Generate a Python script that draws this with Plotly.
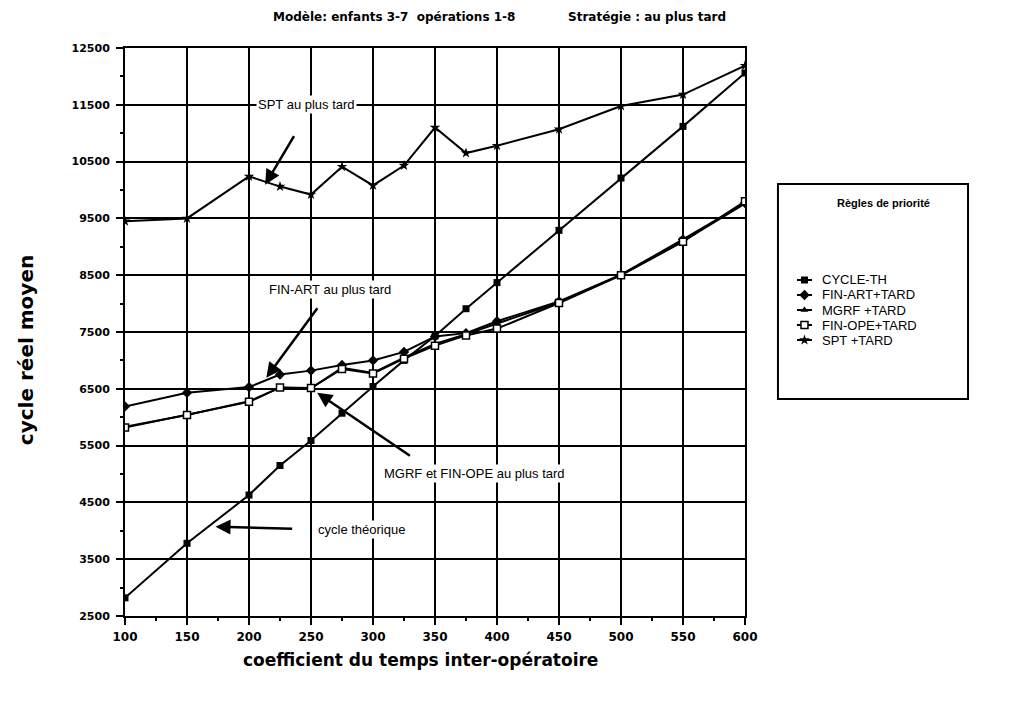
import plotly.graph_objects as go

# Inter-operation time coefficient (x) and mean real cycle (y) for each priority rule
coef = [100, 150, 200, 225, 250, 275, 300, 325, 350, 375, 400, 450, 500, 550, 600]

cycle_th = [2820, 3780, 4630, 5150, 5590, 6070, 6540, 7000, 7430, 7910, 8370, 9290, 10210, 11120, 12060]
fin_art = [6190, 6430, 6530, 6750, 6820, 6920, 7000, 7150, 7420, 7480, 7690, 8040, 8510, 9130, 9770]
mgrf = [5830, 6040, 6280, 6520, 6510, 6870, 6780, 7050, 7290, 7460, 7650, 8020, 8500, 9100, 9760]
fin_ope = [5820, 6040, 6270, 6525, 6514, 6850, 6770, 7030, 7260, 7440, 7560, 8010, 8500, 9090, 9800]
spt = [9450, 9500, 10240, 10060, 9920, 10410, 10080, 10430, 11100, 10650, 10780, 11070, 11480, 11680, 12190]

x_ticks = [100, 150, 200, 250, 300, 350, 400, 450, 500, 550, 600]
y_ticks = [2500, 3500, 4500, 5500, 6500, 7500, 8500, 9500, 10500, 11500, 12500]
y_tick_text = [str(v) for v in y_ticks]

series = [
    ("CYCLE-TH", cycle_th, dict(symbol="square", size=7, color="black")),
    ("FIN-ART+TARD", fin_art, dict(symbol="diamond", size=8, color="black")),
    ("MGRF +TARD", mgrf, dict(symbol="triangle-up", size=7, color="black")),
    ("FIN-OPE+TARD", fin_ope, dict(symbol="square", size=7, color="white",
                                   line=dict(color="black", width=1.5))),
    ("SPT +TARD", spt, dict(symbol="star", size=8, color="black")),
]

# Horizontal layout: main plot on the left, legend panel on the right
LEFT = 125
PLOT_W = 855           # paper width in px (1010 - margins)
main_right = 620 / PLOT_W
legend_x0, legend_x1 = 0.7637, 0.986
legend_y0, legend_y1 = 0.382, 0.7606
LEG_W, LEG_H = 190, 215   # legend panel size in px, used as its axis ranges


def px_x(px):
    """Page pixel column -> paper x."""
    return (px - LEFT) / PLOT_W


fig = go.Figure()
for name, vals, marker in series:
    fig.add_trace(go.Scatter(
        x=coef, y=vals, name=name, mode="lines+markers",
        line=dict(color="black", width=2), marker=marker, showlegend=False,
    ))

# Legend samples drawn on their own small axes inside the panel
legend_font = dict(family="Liberation Sans, Arial, sans-serif", size=13, color="black")
for i, (name, _, marker) in enumerate(series):
    row_y = 96 + 15 * i
    fig.add_trace(go.Scatter(
        x=[19, 34], y=[row_y, row_y], mode="lines", xaxis="x2", yaxis="y2",
        line=dict(color="black", width=2), showlegend=False, hoverinfo="skip",
    ))
    fig.add_trace(go.Scatter(
        x=[26.5], y=[row_y], mode="markers", xaxis="x2", yaxis="y2",
        marker=marker, showlegend=False, hoverinfo="skip",
    ))
    fig.add_annotation(xref="x2", yref="y2", x=42, y=row_y, text=name,
                       xanchor="left", yanchor="middle", showarrow=False,
                       font=legend_font)
fig.add_annotation(xref="x2", yref="y2", x=105, y=19,
                   text="<b>Règles de priorité</b>", showarrow=False,
                   xanchor="center", yanchor="middle",
                   font=dict(family="Liberation Sans, Arial, sans-serif", size=11, color="black"))

label_font = dict(family="Liberation Sans, Arial, sans-serif", size=13, color="black")

# Callout labels and their arrows (data coordinates)
callouts = [
    ("SPT au plus tard", (246, 11500), (237, 10974), (213, 10094)),
    ("FIN-ART au plus tard", (265, 8245), (256, 7945), (214, 6695)),
    ("MGRF et FIN-OPE au plus tard", (382, 5005), (331, 5305), (255, 6431)),
    ("cycle théorique", (291, 4020), (236, 4037), (173, 4072)),
]
for text, (tx, ty), (ax, ay), (hx, hy) in callouts:
    fig.add_annotation(x=tx, y=ty, text=text, showarrow=False, font=label_font,
                       xanchor="center", yanchor="middle",
                       bgcolor="white", borderpad=1)
    fig.add_annotation(x=hx, y=hy, ax=ax, ay=ay, axref="x", ayref="y", text="",
                       showarrow=True, arrowhead=2, arrowsize=1.2, arrowwidth=2.5,
                       arrowcolor="black")

# Title line
title_font = dict(family="DejaVu Sans, sans-serif", size=12, color="black")
fig.add_annotation(xref="paper", yref="paper", x=px_x(394), y=1.055,
                   xanchor="center", yanchor="middle",
                   text="<b>Modèle: enfants 3-7  opérations 1-8</b>",
                   showarrow=False, font=title_font)
fig.add_annotation(xref="paper", yref="paper", x=px_x(647), y=1.055,
                   xanchor="center", yanchor="middle",
                   text="<b>Stratégie : au plus tard</b>",
                   showarrow=False, font=title_font)

# Axis titles
fig.add_annotation(xref="paper", yref="paper", x=px_x(26), y=0.468,
                   xanchor="center", yanchor="middle",
                   text="<b>cycle réel moyen</b>", textangle=-90, showarrow=False,
                   font=dict(family="DejaVu Sans, sans-serif", size=20, color="black"))
fig.add_annotation(xref="paper", yref="paper", x=px_x(420), y=-0.0775,
                   xanchor="center", yanchor="middle",
                   text="<b>coefficient du temps inter-opératoire</b>", showarrow=False,
                   font=dict(family="DejaVu Sans, sans-serif", size=17, color="black"))

# Legend frame
fig.add_shape(type="rect", xref="paper", yref="paper",
              x0=legend_x0, x1=legend_x1, y0=legend_y0, y1=legend_y1,
              line=dict(color="black", width=2), fillcolor="white", layer="below")

axis_common = dict(
    showline=True, linecolor="black", linewidth=2, mirror=True,
    showgrid=True, gridcolor="black", gridwidth=1.5,
    ticks="outside", ticklen=7, tickcolor="black", tickwidth=1.5,
    zeroline=False,
)

fig.update_layout(
    xaxis=dict(domain=[0, main_right], range=[100, 600], tickvals=x_ticks,
               tickfont=dict(family="DejaVu Sans, sans-serif", size=12, color="black",
                             weight="bold"),
               ticklabelstandoff=2,
               minor=dict(dtick=25, tick0=100, ticks="outside", ticklen=3,
                          tickcolor="black", showgrid=False),
               **axis_common),
    yaxis=dict(range=[2500, 12500], tickvals=y_ticks, ticktext=y_tick_text,
               tickfont=dict(family="DejaVu Sans, sans-serif", size=11, color="black",
                             weight="bold"),
               ticklabelstandoff=4,
               minor=dict(dtick=500, tick0=2500, ticks="outside", ticklen=3,
                          tickcolor="black", showgrid=False),
               **axis_common),
    xaxis2=dict(domain=[legend_x0, legend_x1], range=[0, LEG_W], anchor="y2",
                visible=False, fixedrange=True),
    yaxis2=dict(domain=[legend_y0, legend_y1], range=[LEG_H, 0], anchor="x2",
                visible=False, fixedrange=True),
    width=1010, height=702,
    margin=dict(l=LEFT, r=30, t=48, b=86),
    paper_bgcolor="white", plot_bgcolor="white",
    showlegend=False,
)

fig.write_html("out.html")
